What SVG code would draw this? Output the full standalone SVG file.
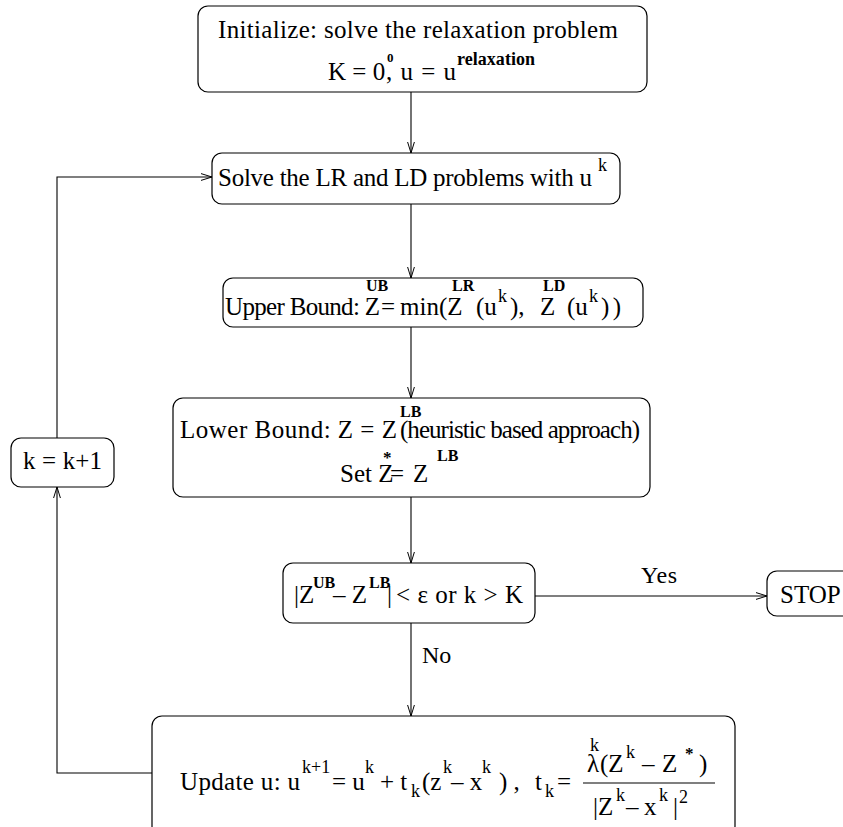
<svg xmlns="http://www.w3.org/2000/svg" width="843" height="827" viewBox="0 0 843 827">
  <defs>
    <style>
      .box { fill: #ffffff; stroke: #000000; stroke-width: 1.2; }
      .edge { fill: none; stroke: #000000; stroke-width: 1.1; }
      text { font-family: "Liberation Serif", "Times New Roman", serif; font-size: 25px; fill: #000000; }
      .sb { font-weight: bold; font-size: 16px; }
      .sk { font-size: 18px; }
      .lbl { font-size: 24px; }
    </style>
    <marker id="arrow" markerWidth="12" markerHeight="8" refX="11" refY="4" orient="auto" markerUnits="userSpaceOnUse">
      <path d="M0,0.6 L11,4 L0,7.4" fill="none" stroke="#000000" stroke-width="1"/>
    </marker>
  </defs>

  <!-- connectors -->
  <g id="connectors">
    <line class="edge" x1="411" y1="92" x2="411" y2="153" marker-end="url(#arrow)"/>
    <line class="edge" x1="411" y1="204" x2="411" y2="278" marker-end="url(#arrow)"/>
    <line class="edge" x1="411" y1="327" x2="411" y2="398" marker-end="url(#arrow)"/>
    <line class="edge" x1="411" y1="497" x2="411" y2="563" marker-end="url(#arrow)"/>
    <line class="edge" x1="411" y1="623" x2="411" y2="716" marker-end="url(#arrow)"/>
    <line class="edge" x1="535" y1="596" x2="767" y2="596" marker-end="url(#arrow)"/>
    <polyline class="edge" points="152,773 57,773 57,487" marker-end="url(#arrow)"/>
    <polyline class="edge" points="57,438 57,177 212,177" marker-end="url(#arrow)"/>
    <text class="lbl" x="641" y="583" textLength="36">Yes</text>
    <text class="lbl" x="422" y="663">No</text>
  </g>

  <!-- initialization -->
  <g id="init">
    <rect class="box" x="198" y="6" width="449" height="86" rx="10"/>
    <text x="218" y="38" textLength="400">Initialize: solve the relaxation problem</text>
    <text x="328" y="80">K = 0</text>
    <text class="sb" x="387" y="62" style="font-size:13px">0</text>
    <text x="386" y="80" textLength="70">, u = u</text>
    <text class="sb" x="457" y="65" style="font-size:18px" textLength="78">relaxation</text>
  </g>

  <!-- solve LR / LD -->
  <g id="solve">
    <rect class="box" x="212" y="153" width="408" height="51" rx="10"/>
    <text x="218" y="186" textLength="374">Solve the LR and LD problems with u</text>
    <text class="sk" x="598" y="171">k</text>
  </g>

  <!-- upper bound -->
  <g id="upper">
    <rect class="box" x="223" y="278" width="420" height="49" rx="10"/>
    <text x="225" y="315" textLength="155">Upper Bound: Z</text>
    <text class="sb" x="366" y="291">UB</text>
    <text x="381" y="315">=</text>
    <text x="400" y="315">min(Z</text>
    <text class="sb" x="452" y="291">LR</text>
    <text x="476" y="315">(u</text>
    <text class="sk" x="498" y="302">k</text>
    <text x="510" y="315">),</text>
    <text x="540" y="315">Z</text>
    <text class="sb" x="543" y="291">LD</text>
    <text x="567" y="315">(u</text>
    <text class="sk" x="589" y="302">k</text>
    <text x="601" y="315" textLength="20">))</text>
  </g>

  <!-- lower bound -->
  <g id="lower">
    <rect class="box" x="173" y="398" width="477" height="99" rx="10"/>
    <text x="180" y="438" textLength="217">Lower Bound: Z = Z</text>
    <text class="sb" x="400" y="417">LB</text>
    <text x="400" y="438" textLength="240">(heuristic based approach)</text>
    <text x="340" y="482">Set Z</text>
    <text class="sb" x="383" y="463" style="font-size:17px">*</text>
    <text x="390" y="482">=</text>
    <text x="413" y="482">Z</text>
    <text class="sb" x="437" y="461">LB</text>
  </g>

  <!-- stopping test -->
  <g id="test">
    <rect class="box" x="283" y="563" width="252" height="60" rx="10"/>
    <text x="294" y="603">|Z</text>
    <text class="sb" x="313" y="588">UB</text>
    <text x="333" y="603">– Z</text>
    <text class="sb" x="369" y="588">LB</text>
    <text x="387" y="603">|</text>
    <text x="396" y="603" textLength="127">&lt; ε or k &gt; K</text>
  </g>

  <!-- stop -->
  <g id="stop">
    <rect class="box" x="767" y="571" width="90" height="45" rx="10"/>
    <text x="780" y="603">STOP</text>
  </g>

  <!-- multiplier update -->
  <g id="update">
    <rect class="box" x="152" y="716" width="583" height="120" rx="10"/>
    <text x="180" y="790" textLength="120">Update u: u</text>
    <text class="sk" x="302" y="773">k+1</text>
    <text x="332" y="790">= u</text>
    <text class="sk" x="365" y="773">k</text>
    <text x="380" y="790">+ t</text>
    <text class="sk" x="411" y="797">k</text>
    <text x="422" y="790">(z</text>
    <text class="sk" x="443" y="773">k</text>
    <text x="451" y="790">– x</text>
    <text class="sk" x="482" y="773">k</text>
    <text x="499" y="790">) ,</text>
    <text x="535" y="790">t</text>
    <text class="sk" x="545" y="797">k</text>
    <text x="557" y="790">=</text>
    <!-- step size fraction -->
    <text x="587" y="772">λ</text>
    <text class="sk" x="590" y="751">k</text>
    <text x="600" y="772">(Z</text>
    <text class="sk" x="626" y="758">k</text>
    <text x="642" y="772">–</text>
    <text x="662" y="772">Z</text>
    <text class="sb" x="685" y="759" style="font-size:17px">*</text>
    <text x="699" y="772">)</text>
    <line x1="583" y1="783" x2="715" y2="783" stroke="#000000" stroke-width="1.2"/>
    <text x="593" y="815">|Z</text>
    <text class="sk" x="616" y="801">k</text>
    <text x="626" y="815">–</text>
    <text x="644" y="815">x</text>
    <text class="sk" x="659" y="801">k</text>
    <text x="673" y="815">|</text>
    <text class="sk" x="679" y="803">2</text>
  </g>

  <!-- counter increment -->
  <g id="incr">
    <rect class="box" x="11" y="438" width="103" height="49" rx="10"/>
    <text x="23" y="469" textLength="79">k = k+1</text>
  </g>
</svg>
